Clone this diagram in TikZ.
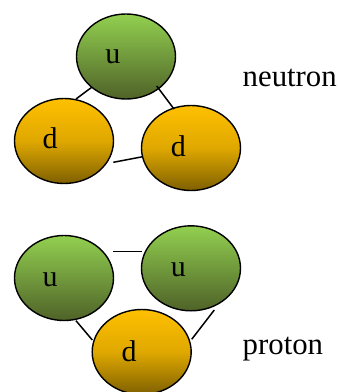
\documentclass[tikz,border=0pt]{standalone}
\usepackage{fontspec}
\setmainfont{Liberation Serif}
\usetikzlibrary{shapes.geometric,calc}
\definecolor{gtop}{HTML}{92D050}
\definecolor{gbot}{HTML}{4F6228}
\definecolor{otop}{HTML}{FFC000}
\definecolor{omid}{HTML}{DFA800}
\definecolor{obot}{HTML}{7F6000}
\tikzset{
  quark/.style={ellipse, draw=black, line width=1.4pt, minimum width=99pt, minimum height=85pt, inner sep=0pt},
  upq/.style={quark, top color=gtop, bottom color=gbot},
  downq/.style={quark, top color=otop, bottom color=obot, middle color=omid},
  lbl/.style={font=\fontsize{30}{36}\selectfont, inner sep=0pt, anchor=base},
  particlelbl/.style={font=\fontsize{30.8}{36}\selectfont, inner sep=0pt, anchor=base west},
  bond/.style={draw=black, line width=1.5pt}
}
\begin{document}
\begin{tikzpicture}[x=1pt,y=-1pt]
\useasboundingbox (0,0) rectangle (338,392);
\clip (0,0) rectangle (338,392);
% neutron
\node[upq] (nu) at (126,56.5) {};
\node[downq] (ndl) at (64,141) {};
\node[downq] (ndr) at (191,148) {};
\node[lbl] (nul) at (113,63) {u};
\node[lbl] (ndll) at (50,148) {d};
\node[lbl] (ndrl) at (178.5,156) {d};
\node[particlelbl] (neutron) at (242.5,86) {neutron};
\draw[bond] ($(ndl)+(12,-42)$) -- ($(nu)+(-34.3,30.8)$);
\draw[bond] ($(nu)+(30.7,29.5)$) -- ($(ndr)+(-17,-39)$);
\draw[bond] ($(ndl)+(49.3,21.3)$) -- ($(ndr)+(-48.3,8.7)$);
% proton
\node[upq] (pl) at (64,278) {};
\node[upq] (pr) at (191,268.3) {};
\node[downq] (pd) at (141.7,352) {};
\node[lbl] (pll) at (50,286) {u};
\node[lbl] (prl) at (178.5,276) {u};
\node[lbl] (pdl) at (129,361.7) {d};
\node[particlelbl] (proton) at (242.5,354) {proton};
\draw[bond] ($(pl)+(49.3,-26.3)$) -- ($(pr)+(-49.3,-16.6)$);
\draw[bond] ($(pl)+(12,42.7)$) -- ($(pd)+(-49.4,-12)$);
\draw[bond] ($(pd)+(50,-12.7)$) -- ($(pr)+(23.3,41.7)$);
\end{tikzpicture}
\end{document}
